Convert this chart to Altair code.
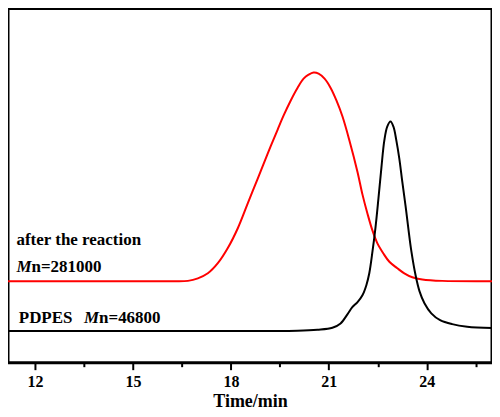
import altair as alt
import pandas as pd

# Red curve: after the reaction
red_t = [11.0, 15.5, 16.2, 16.683, 16.988, 17.294, 17.599, 17.905, 18.211, 18.516, 18.822,
         19.127, 19.433, 19.616, 19.830, 20.044, 20.227, 20.380, 20.533, 20.686, 20.869,
         21.052, 21.236, 21.419, 21.633, 21.877, 22.030, 22.183, 22.336, 22.489, 22.672,
         22.855, 23.099, 23.313, 23.558, 23.863, 24.474, 26.0]
red_y = [22.6, 22.6, 22.6, 22.7, 23.4, 24.8, 27.6, 31.8, 37.3, 44.2, 51.1,
         58.0, 64.7, 68.6, 72.7, 76.3, 78.8, 79.9, 80.5, 80.2, 78.8,
         76.3, 72.7, 68.3, 61.6, 53.0, 46.7, 41.4, 36.7, 33.1, 30.3,
         28.0, 26.2, 24.8, 23.7, 23.1, 22.7, 22.6]

# Black curve: PDPES
black_t = [11.0, 19.0, 20.04, 20.65, 21.11, 21.36, 21.57, 21.72, 21.88, 22.03, 22.15,
           22.24, 22.34, 22.43, 22.52, 22.61, 22.70, 22.79, 22.89, 22.98, 23.07, 23.16,
           23.25, 23.35, 23.44, 23.53, 23.66, 23.78, 23.93, 24.14, 24.41, 24.78, 25.24, 26.0]
black_y = [8.8, 8.8, 8.86, 9.14, 9.7, 10.9, 13.4, 15.4, 16.8, 18.7, 21.5,
           24.8, 31.0, 37.5, 45.5, 54.0, 61.6, 65.5, 66.9, 65.5, 61.6, 56.6,
           50.3, 43.6, 37.0, 30.9, 24.2, 19.8, 16.5, 13.7, 11.8, 10.7, 10.0, 9.6]

tick_values = [12, 13.5, 15, 16.5, 18, 19.5, 21, 22.5, 24, 25.5]

# annotations
ann_text = ["after the reaction", "M", "n=281000", "PDPES", "M", "n=46800"]
ann_x = [11.43, 11.43, 11.89, 11.50, 13.50, 13.96]
ann_y = [34.1, 26.6, 26.6, 12.4, 12.4, 12.4]
ann_style = ["normal", "italic", "normal", "normal", "italic", "normal"]

FONT = "Liberation Serif"

df = pd.concat([
    pd.DataFrame({"t": red_t, "s": red_y, "series": "after"}),
    pd.DataFrame({"t": black_t, "s": black_y, "series": "PDPES"}),
])
ann = pd.DataFrame({"text": ann_text, "x": ann_x, "y": ann_y, "style": ann_style})

xscale = alt.Scale(domain=[11.17, 26], nice=False, zero=False)
yscale = alt.Scale(domain=[0, 98.3], nice=False, zero=False)

xaxis = alt.Axis(
    values=tick_values,
    labelExpr="datum.value % 3 == 0 ? datum.label : ''",
    tickSize={"condition": {"test": "datum.value % 3 != 0", "value": 4}, "value": 7},
    tickWidth=2,
    tickColor="black",
    domain=False,
    grid=False,
    labelFont=FONT, labelFontSize=16, labelFontWeight="bold", labelColor="black",
    labelPadding=4,
    title="Time/min", titleFont=FONT, titleFontSize=18, titleFontWeight="bold",
    titleColor="black", titlePadding=3,
)

lines = alt.Chart(df).mark_line(strokeWidth=2, interpolate="catmull-rom", clip=True).encode(
    x=alt.X("t:Q", scale=xscale, axis=xaxis),
    y=alt.Y("s:Q", scale=yscale, axis=None),
    color=alt.Color("series:N", scale=alt.Scale(domain=["after", "PDPES"], range=["#ff0000", "#000000"]), legend=None),
    detail="series:N",
)

normal = alt.Chart(ann).transform_filter("datum.style == 'normal'").mark_text(
    align="left", baseline="middle", font=FONT, fontSize=17, fontWeight="bold", color="black"
).encode(x=alt.X("x:Q", scale=xscale), y=alt.Y("y:Q", scale=yscale), text="text:N")

italic = alt.Chart(ann).transform_filter("datum.style == 'italic'").mark_text(
    align="left", baseline="middle", font=FONT, fontSize=17, fontWeight="bold",
    fontStyle="italic", color="black"
).encode(x=alt.X("x:Q", scale=xscale), y=alt.Y("y:Q", scale=yscale), text="text:N")

chart = alt.layer(lines, normal, italic).properties(
    width=485, height=355,
    background="white",
    padding={"left": 0, "top": 0, "right": 0, "bottom": 0},
).configure_view(stroke="black", strokeWidth=3)

chart.save("out.html", embed_options={"renderer": "svg", "actions": False})
